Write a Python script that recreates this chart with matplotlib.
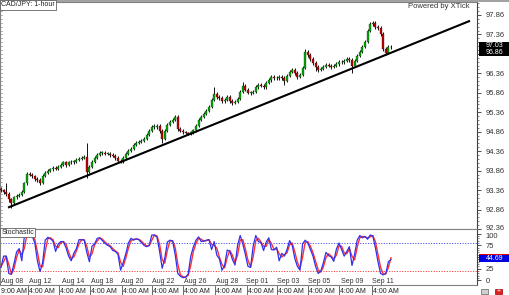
import numpy as np
import matplotlib
matplotlib.use("Agg")
import matplotlib.pyplot as plt
import matplotlib.transforms as mtrans
from matplotlib.patches import Rectangle

# ---------------- data ----------------
first_open = 93.40
closes = [93.35, 93.30, 93.27, 93.12, 93.04, 93.17, 93.22, 93.24, 93.32, 93.53,
          93.78, 93.76, 93.71, 93.65, 93.63, 93.55, 93.73, 93.81, 93.86, 93.89,
          93.94, 93.91, 93.96, 94.01, 94.07, 94.01, 94.07, 94.09, 94.09, 94.14,
          94.17, 94.19, 94.22, 93.83, 93.96, 94.09, 94.19, 94.27, 94.32, 94.32,
          94.30, 94.30, 94.27, 94.24, 94.19, 94.12, 94.09, 94.19, 94.30, 94.37,
          94.42, 94.53, 94.58, 94.60, 94.63, 94.68, 94.78, 94.88, 94.99, 94.99,
          95.01, 94.88, 94.68, 94.88, 95.04, 95.12, 95.17, 95.24, 94.94, 94.88,
          94.84, 94.82, 94.80, 94.84, 94.90, 95.01, 95.17, 95.24, 95.32, 95.40,
          95.50, 95.68, 95.83, 95.76, 95.73, 95.65, 95.68, 95.76, 95.65, 95.60,
          95.63, 95.71, 95.89, 96.04, 95.94, 95.86, 95.86, 95.89, 96.01, 96.07,
          96.04, 96.01, 96.12, 96.19, 96.27, 96.24, 96.24, 96.27, 96.24, 96.17,
          96.30, 96.40, 96.45, 96.37, 96.27, 96.32, 96.50, 96.91, 96.83, 96.73,
          96.63, 96.53, 96.45, 96.48, 96.53, 96.58, 96.55, 96.53, 96.55, 96.60,
          96.65, 96.65, 96.68, 96.73, 96.71, 96.55, 96.68, 96.81, 96.91, 97.04,
          97.17, 97.45, 97.63, 97.66, 97.55, 97.53, 97.37, 96.99, 96.89, 97.04,
          97.03]
highs = [93.45, 93.40, 93.55, 93.31, 93.15, 93.21, 93.26, 93.29, 93.36, 93.57,
         93.82, 93.83, 93.80, 93.75, 93.69, 93.66, 93.77, 93.85, 93.90, 93.94,
         93.98, 93.99, 94.00, 94.05, 94.11, 94.10, 94.11, 94.13, 94.14, 94.18,
         94.21, 94.23, 94.26, 94.58, 94.00, 94.13, 94.23, 94.31, 94.37, 94.37,
         94.36, 94.35, 94.34, 94.31, 94.28, 94.23, 94.16, 94.23, 94.34, 94.41,
         94.47, 94.57, 94.63, 94.65, 94.68, 94.73, 94.83, 94.93, 95.04, 95.05,
         95.06, 95.05, 94.92, 94.92, 95.08, 95.16, 95.21, 95.29, 95.28, 94.98,
         94.92, 94.88, 94.86, 94.88, 94.94, 95.05, 95.21, 95.28, 95.36, 95.44,
         95.54, 95.72, 96.01, 95.88, 95.80, 95.77, 95.73, 95.80, 95.80, 95.69,
         95.68, 95.75, 95.93, 96.14, 96.08, 95.98, 95.91, 95.93, 96.05, 96.11,
         96.11, 96.08, 96.16, 96.23, 96.31, 96.31, 96.29, 96.31, 96.31, 96.28,
         96.34, 96.44, 96.49, 96.49, 96.41, 96.36, 96.55, 96.98, 96.95, 96.87,
         96.77, 96.67, 96.57, 96.52, 96.57, 96.62, 96.62, 96.59, 96.59, 96.64,
         96.69, 96.70, 96.72, 96.77, 96.77, 96.75, 96.72, 96.85, 96.95, 97.08,
         97.21, 97.49, 97.67, 97.71, 97.70, 97.60, 97.57, 97.41, 97.03, 97.08,
         97.10]
lows = [93.30, 93.25, 93.22, 93.06, 92.91, 92.99, 93.13, 93.18, 93.20, 93.29,
        93.50, 93.71, 93.66, 93.60, 93.57, 93.50, 93.52, 93.70, 93.77, 93.82,
        93.85, 93.87, 93.87, 93.92, 93.98, 93.96, 93.97, 94.03, 94.04, 94.05,
        94.10, 94.13, 94.15, 93.68, 93.79, 93.92, 94.05, 94.15, 94.23, 94.27,
        94.25, 94.25, 94.22, 94.20, 94.14, 94.08, 94.05, 94.06, 94.15, 94.26,
        94.33, 94.38, 94.49, 94.54, 94.56, 94.59, 94.64, 94.74, 94.84, 94.93,
        94.94, 94.83, 94.57, 94.64, 94.84, 95.00, 95.08, 95.13, 94.89, 94.84,
        94.80, 94.79, 94.78, 94.77, 94.81, 94.86, 94.97, 95.13, 95.20, 95.28,
        95.36, 95.46, 95.64, 95.71, 95.68, 95.60, 95.61, 95.64, 95.60, 95.55,
        95.56, 95.59, 95.67, 95.85, 95.90, 95.82, 95.81, 95.82, 95.85, 95.97,
        96.00, 95.97, 95.97, 96.08, 96.15, 96.20, 96.19, 96.20, 96.20, 96.05,
        96.13, 96.26, 96.36, 96.33, 96.22, 96.23, 96.28, 96.46, 96.78, 96.68,
        96.58, 96.42, 96.40, 96.41, 96.44, 96.49, 96.51, 96.48, 96.49, 96.51,
        96.56, 96.60, 96.61, 96.64, 96.66, 96.37, 96.51, 96.64, 96.77, 96.87,
        97.00, 97.13, 97.41, 97.58, 97.50, 97.48, 97.32, 96.93, 96.83, 96.85,
        96.98]

stoch_k = [28, 52, 52, 15, 13, 36, 61, 68, 42, 95, 100, 97, 95, 80, 42, 19, 38, 86, 92, 89,
           84, 62, 78, 83, 83, 70, 52, 42, 58, 68, 87, 87, 86, 60, 40, 73, 78, 90, 91, 85,
           79, 75, 72, 64, 62, 56, 22, 38, 57, 80, 90, 86, 89, 87, 81, 75, 72, 75, 97, 97,
           92, 62, 26, 48, 82, 86, 84, 55, 15, 9, 6, 7, 14, 52, 72, 86, 93, 83, 84, 86,
           87, 66, 83, 54, 46, 22, 32, 65, 62, 45, 33, 75, 96, 78, 55, 30, 28, 74, 96, 83,
           81, 64, 82, 91, 66, 65, 71, 42, 58, 52, 66, 85, 75, 47, 30, 22, 78, 86, 80, 66,
           52, 30, 15, 20, 38, 60, 53, 50, 41, 67, 80, 66, 52, 62, 72, 32, 56, 86, 96, 91,
           94, 88, 97, 95, 70, 40, 15, 12, 15, 40, 44.69]
stoch_d = [30, 40, 52, 34, 14, 25, 49, 65, 55, 69, 98, 99, 96, 88, 61, 31, 29, 62, 89, 91,
           87, 73, 70, 81, 83, 77, 61, 47, 50, 63, 78, 87, 87, 73, 50, 57, 76, 84, 91, 88,
           82, 77, 74, 68, 63, 59, 39, 30, 48, 69, 85, 88, 88, 88, 84, 78, 74, 74, 86, 97,
           95, 77, 44, 37, 65, 84, 85, 70, 35, 12, 8, 7, 11, 33, 62, 79, 90, 88, 84, 85,
           87, 77, 75, 69, 50, 34, 27, 49, 64, 54, 39, 54, 86, 87, 67, 43, 29, 51, 85, 90,
           82, 73, 73, 87, 79, 66, 68, 57, 50, 55, 59, 76, 80, 61, 39, 26, 50, 82, 83, 73,
           59, 41, 23, 18, 29, 49, 57, 52, 46, 54, 74, 73, 59, 57, 67, 52, 44, 71, 91, 94,
           93, 91, 93, 96, 83, 55, 28, 14, 14, 28, 48.5]

trend_x = [2.7, 180.4]
trend_y = [92.91, 97.71]

price_ticks = [92.36, 92.86, 93.36, 93.86, 94.36, 94.86, 95.36, 95.86, 96.36, 96.86, 97.36, 97.86]
stoch_ticks = [0, 25, 50, 75, 100]
date_pos = [4.2, 15.0, 27.7, 38.8, 50.4, 62.3, 74.6, 86.9, 98.5, 110.4, 122.3, 135.0, 146.9]
date_labels = ["Aug 08", "Aug 12", "Aug 14", "Aug 18", "Aug 20", "Aug 22", "Aug 26",
               "Aug 28", "Sep 01", "Sep 03", "Sep 05", "Sep 09", "Sep 11"]
hour_pos = [-0.2, 10.4, 22.3, 34.2, 46.5, 58.1, 70.0, 82.3, 94.6, 106.2, 118.1, 130.0, 142.7]
hour_labels = ["9:00 AM"] + ["4:00 AM"] * 12
last_price = 97.03
trend_price = 96.86

# ---------------- figure ----------------
plt.rcParams['font.family'] = ['Liberation Sans', 'DejaVu Sans']
W, H = 510, 295
fig = plt.figure(figsize=(W / 100, H / 100), dpi=100)
fig.patch.set_facecolor('white')

def fx(px):
    return px / W

def fy(py):
    return 1 - py / H

main_l, main_r = 0, 477
ax = fig.add_axes([fx(main_l), fy(229), fx(main_r - main_l), (229 - 2) / H])
axs = fig.add_axes([fx(main_l), fy(285), fx(main_r - main_l), (285 - 229) / H])

n = len(closes)
x = np.arange(n)
opens = np.r_[first_open, closes[:-1]]
c = np.array(closes)
up = c >= opens
xlim = (-0.385, 183.08)

# candles
ax.vlines(x, lows, highs, color='#111111', lw=0.7, zorder=2)
body_bot = np.minimum(opens, c)
body_h = np.maximum(np.abs(c - opens), 0.012)
ax.bar(x[up], body_h[up], bottom=body_bot[up], width=0.7, color='#00a800',
       edgecolor='#1a3a1a', linewidth=0.25, zorder=3)
ax.bar(x[~up], body_h[~up], bottom=body_bot[~up], width=0.7, color='#c00000',
       edgecolor='#3a1010', linewidth=0.25, zorder=3)

# trend line
ax.plot(trend_x, trend_y, color='black', lw=1.5, zorder=4, solid_capstyle='butt')

ax.set_xlim(*xlim)
ax.set_ylim(92.373, 98.193)
ax.set_xticks([])
ax.yaxis.tick_right()
ax.set_yticks(price_ticks)
# the 96.86 level is covered by the value box in the reference
ax.set_yticklabels(["" if abs(v - trend_price) < 0.005 else f"{v:.2f}" for v in price_ticks])
ax.set_yticks(np.arange(92.36, 98.2, 0.1), minor=True)
ax.tick_params(axis='y', which='major', length=3, width=0.6, pad=3, labelsize=5.5,
               colors='#333333', direction='out')
ax.tick_params(axis='y', which='minor', length=1.5, width=0.5, colors='#555555',
               direction='out')
for s in ax.spines.values():
    s.set_color('#808080')
    s.set_linewidth(0.8)
ax.spines['right'].set_color('#404040')

# left inner small ticks
for v in np.arange(92.46, 98.2, 0.1):
    ax.plot([xlim[0], xlim[0] + 0.9], [v, v], color='#909090', lw=0.5,
            clip_on=False, zorder=1)

# stochastic
axs.axhline(80, color='#5050ff', lw=0.7, ls=(0, (1.2, 1.5)))
axs.axhline(20, color='#ff4040', lw=0.7, ls=(0, (1.2, 1.5)))
axs.plot(x, stoch_d, color='#ff3030', lw=1.0, zorder=3)
axs.plot(x, stoch_k, color='#3030ee', lw=0.9, zorder=4)
axs.set_xlim(*xlim)
axs.set_ylim(-9.6, 109.8)
axs.set_xticks([])
axs.yaxis.tick_right()
axs.set_yticks(stoch_ticks)
axs.set_yticklabels(["" if v == 50 else str(v) for v in stoch_ticks])
axs.set_yticks(np.arange(0, 101, 5), minor=True)
axs.tick_params(axis='y', which='major', length=3, width=0.6, pad=3, labelsize=5.5,
                colors='#333333')
axs.tick_params(axis='y', which='minor', length=1.5, width=0.5, colors='#555555')
for s in axs.spines.values():
    s.set_color('#808080')
    s.set_linewidth(0.8)
axs.spines['right'].set_color('#404040')

# nudge the two labels that meet at the panel boundary
fig.canvas.draw()
ax.get_yticklabels()[0].set_transform(
    ax.get_yticklabels()[0].get_transform() + mtrans.ScaledTranslation(0, 1.2 / 100, fig.dpi_scale_trans))
axs.get_yticklabels()[-1].set_transform(
    axs.get_yticklabels()[-1].get_transform() + mtrans.ScaledTranslation(0, -1.5 / 100, fig.dpi_scale_trans))

# date labels inside stochastic panel bottom
tr_s = mtrans.blended_transform_factory(axs.transData, axs.transAxes)
for p, lab in zip(date_pos, date_labels):
    axs.text(p, 0.07, lab, transform=tr_s, ha='center', va='center', fontsize=5,
             color='#333333', zorder=5)

# hour labels row below
tr_f = mtrans.blended_transform_factory(axs.transData, fig.transFigure)
for p, lab in zip(hour_pos, hour_labels):
    axs.text(p + 0.3, fy(291.5), lab, transform=tr_f, ha='left', va='center',
             fontsize=5, color='#222222', clip_on=False)
    if p > 0:
        axs.plot([p, p], [fy(286), fy(295)], transform=tr_f, color='#505050',
                 lw=0.6, clip_on=False)

# title boxes
fig.text(fx(1.5), fy(5), "CAD/JPY: 1-hour", fontsize=5, ha='left', va='center',
         color='#222222',
         bbox=dict(boxstyle='square,pad=0.15', fc='white', ec='#606060', lw=0.6))
fig.text(fx(1.5), fy(232.5), "Stochastic", fontsize=5, ha='left', va='center',
         color='#222222',
         bbox=dict(boxstyle='square,pad=0.15', fc='white', ec='#606060', lw=0.6))
fig.text(fx(470), fy(7), "Powered by XTick", fontsize=5.5, ha='right', va='center',
         color='#333333')

# price value boxes on the right axis
tr_p = mtrans.blended_transform_factory(fig.transFigure, ax.transData)
ax.add_patch(Rectangle((fx(479), 96.80), fx(31), 0.17, transform=tr_p,
                       fc='black', ec='none', clip_on=False, zorder=9))
ax.add_patch(Rectangle((fx(479), 96.97), fx(31), 0.20, transform=tr_p,
                       fc='black', ec='none', clip_on=False, zorder=10))
ax.text(fx(494.5), 96.885, f"{trend_price:.2f}", transform=tr_p, fontsize=5,
        color='white', ha='center', va='center', clip_on=False, zorder=11)
ax.text(fx(494.5), 97.07, f"{last_price:.2f}", transform=tr_p, fontsize=5,
        color='white', ha='center', va='center', clip_on=False, zorder=11)

# stochastic value boxes: red %D box mostly hidden behind the blue %K box
tr_q = mtrans.blended_transform_factory(fig.transFigure, axs.transData)
axs.add_patch(Rectangle((fx(479), 51.5), fx(31), 6, transform=tr_q,
                        fc='#e00000', ec='none', clip_on=False, zorder=9))
axs.add_patch(Rectangle((fx(479), 39.5), fx(31), 14.5, transform=tr_q,
                        fc='#0000e0', ec='none', clip_on=False, zorder=10))
axs.text(fx(494.5), 46.7, f"{stoch_k[-1]:.2f}", transform=tr_q, fontsize=5,
         color='white', ha='center', va='center', clip_on=False, zorder=11)

# small icons bottom right
fig.patches.append(Rectangle((fx(481), fy(294)), fx(7), 5 / H, transform=fig.transFigure,
                             fc='#d0d0d0', ec='#606060', lw=0.5))
fig.patches.append(Rectangle((fx(495), fy(294)), fx(7), 5 / H, transform=fig.transFigure,
                             fc='#e02020', ec='#a00000', lw=0.5))
fig.text(fx(498.5), fy(291.5), "+", fontsize=5, color='white', ha='center', va='center')

# top border
fig.add_artist(plt.Line2D([0, 1], [fy(0.5), fy(0.5)], transform=fig.transFigure,
                          color='#909090', lw=1.2))

fig.savefig("out.png", dpi=100)
